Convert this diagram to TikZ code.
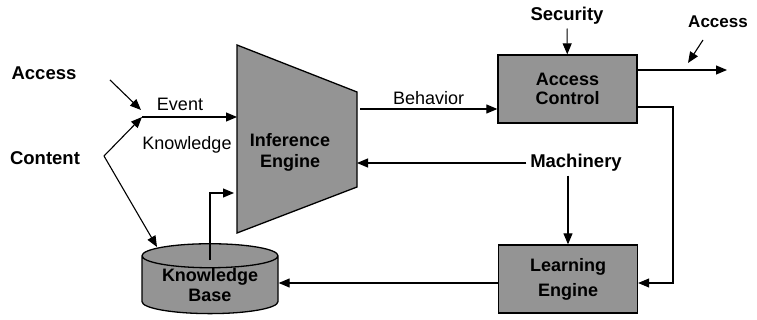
\documentclass[tikz,border=0pt]{standalone}
\usepackage{fontspec}
\setmainfont{Liberation Sans}
\usepackage{tikz}
\usetikzlibrary{arrows.meta,calc,positioning,shapes}

\begin{document}
\begin{tikzpicture}[
            x=1pt, y=-1pt,
            line width=1.1pt,
            grayfill/.style = {fill=black!42, draw=black, line width=1.3pt},
            block/.style = {grayfill, rectangle,
                minimum width=139pt,
                minimum height=68pt,
                inner sep=0pt,
                align=center,
            },
            boxtext/.style = {align=center, inner sep=0pt},
            tag/.style = {font=\fontsize{18}{20}\selectfont},
            input/.style = {font=\fontsize{18.5}{20}\selectfont\bfseries},
            flowline/.style = {-{Triangle[length=11pt, width=9pt]}},
        ]
            \useasboundingbox (0,0) rectangle (757,320);

            % inference engine
            \filldraw[grayfill] (237,45) coordinate (ie-nw) -- (357,92) coordinate (ie-ne)
                -- (357,187) coordinate (ie-se) -- (237,233) coordinate (ie-sw) -- cycle;
            \node[boxtext, font=\fontsize{18}{21}\selectfont\bfseries] (ie) at (290,152) {Inference\\Engine};

            % blocks
            \node[block, font=\fontsize{18}{18.5}\selectfont\bfseries] (ac) at (567.5,89) {Access\\Control};
            \node[block, font=\fontsize{18}{25}\selectfont\bfseries] (le) at (568,279) {Learning\\Engine};
            \node[grayfill, cylinder, shape border rotate=90, aspect=0.25,
                minimum width=136pt, minimum height=64pt, inner sep=0pt, align=center,
                font=\fontsize{18}{20}\selectfont\bfseries] (kb) at (210,285) {Knowledge\\Base};

            % inputs
            \node[input] (acc-in) at (44,73) {Access};
            \node[input] (content) at (45,158) {Content};
            \node[input] (sec) at (567,16) {Security};
            \node[input] (mach) at (576,163) {Machinery};
            \node[input, font=\fontsize{17}{20}\selectfont\bfseries] (acc-out) at (718,22) {Access};

            \coordinate (j) at (142,117);
            \coordinate (c) at (104,156);
            \coordinate (acc-tail) at (110,80);
            \coordinate (acc-tip) at (141,110);
            \coordinate (kb-in) at (157,247);
            \coordinate (kb-tip) at (234,193);
            \coordinate (beh) at (360,109);
            \coordinate (out) at (727,70);
            \coordinate (ao-tail) at (703,40);
            \coordinate (ao-tip) at (688,63);
            \coordinate (fb) at (673,107);

            \draw[flowline] (acc-tail) -- (acc-tip);
            \draw[flowline] (c) -- (j);
            \draw[flowline] (c) -- (kb-in);
            \draw[flowline] (j) -- (j -| ie-nw);
            \node[tag] (event) at (180,104) {Event};
            \node[tag] (know) at (187,145) {Knowledge};
            \draw[flowline] ([yshift=-17pt]kb.north) |- (kb-tip);

            \draw[flowline] (beh) -- (beh -| ac.west) node[tag, midway, above] {Behavior};
            \draw[flowline] (sec) -- (ac);
            \draw[flowline] (out -| ac.east) -- (out);
            \draw[flowline] (ao-tail) -- (ao-tip);
            \draw[flowline] (fb -| ac.east) -- (fb) |- ([yshift=-4pt]le.east);

            \draw[flowline] (mach.west) -- (mach.west -| ie-ne);
            \draw[flowline] (mach.south -| le.north) -- (le.north);
            \draw[flowline] ([yshift=-4pt]le.west) -- ([yshift=-4pt]le.west -| kb.east);
        \end{tikzpicture}
\end{document}
